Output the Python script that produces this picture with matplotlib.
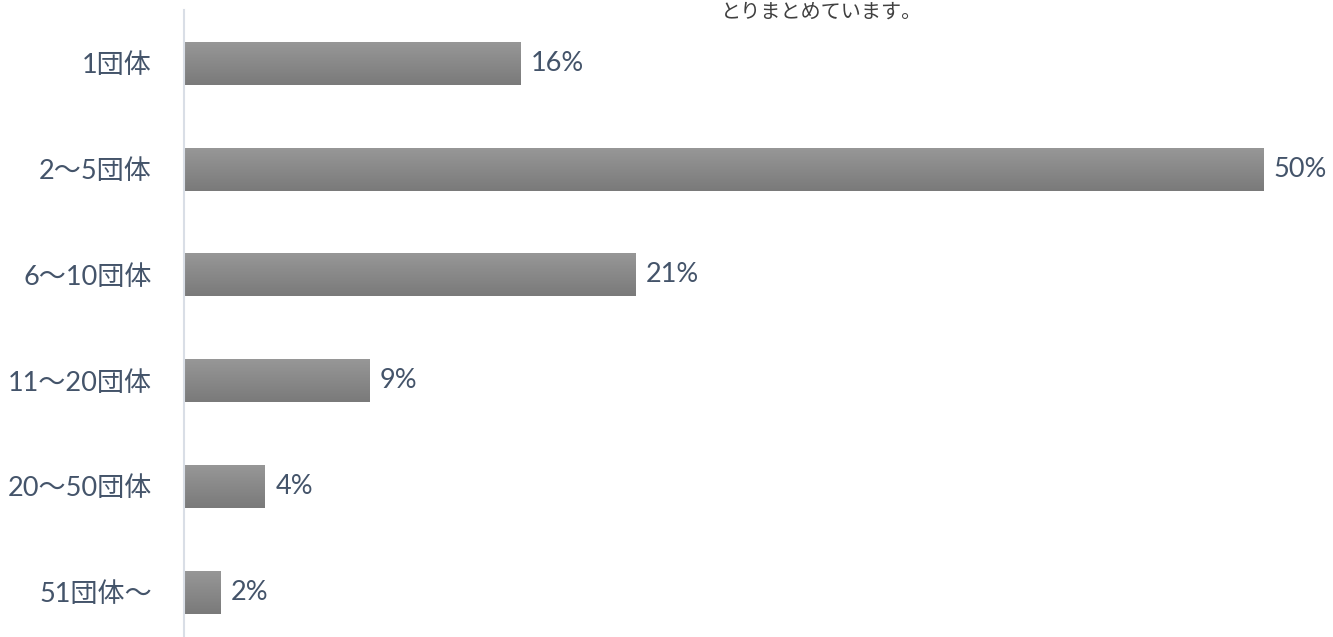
import numpy as np
import matplotlib
matplotlib.use('Agg')
import matplotlib.pyplot as plt

plt.rcParams['font.family'] = ['Lato', 'Noto Sans CJK JP', 'DejaVu Sans']

categories = ['1団体', '2〜5団体', '6〜10団体', '11〜20団体', '20〜50団体', '51団体〜']
values = [15.6, 50.0, 20.9, 8.6, 3.75, 1.7]
value_labels = ['16%', '50%', '21%', '9%', '4%', '2%']
note = 'とりまとめています。'

txt = '#44546A'

fig = plt.figure(figsize=(13.33, 6.37), dpi=100)
# plot area runs slightly past the bottom edge, as in the original
ax = fig.add_axes([184/1333, (637-645.2)/637, 1149/1333, 634.8/637])

y = np.arange(len(categories))
bars = ax.barh(y, values, height=0.406, color='none', edgecolor='none')

# vertical gradient fill for each bar
grad = np.linspace(0, 1, 64).reshape(-1, 1)
cmap = matplotlib.colors.LinearSegmentedColormap.from_list('g', ['#979797', '#7a7a7a'])
for b in bars:
    x0, y0, w, h = b.get_x(), b.get_y(), b.get_width(), b.get_height()
    ax.imshow(grad, cmap=cmap, aspect='auto', extent=[x0, x0 + w, y0 + h, y0],
              zorder=2, interpolation='bicubic')

for b, lab in zip(bars, value_labels):
    ax.annotate(lab, (b.get_width(), b.get_y() + b.get_height() / 2),
                xytext=(7.5, 0), textcoords='offset points', va='center', ha='left',
                fontsize=19.5, color=txt)

ax.set_xlim(0, 53.24)
ax.set_ylim(5.5, -0.5)
ax.set_yticks(y)
ax.set_yticklabels(categories, fontsize=19.5, color=txt)
ax.tick_params(axis='y', length=0, pad=23)
ax.set_xticks([])
for s in ['top', 'right', 'bottom']:
    ax.spines[s].set_visible(False)
ax.spines['left'].set_color('#D9DEE6')
ax.spines['left'].set_linewidth(1.5)

fig.text(822/1333, 1 - 12/637, note, ha='center', va='center', fontsize=14.5, color='#404040')

fig.savefig('out.png', dpi=100)
